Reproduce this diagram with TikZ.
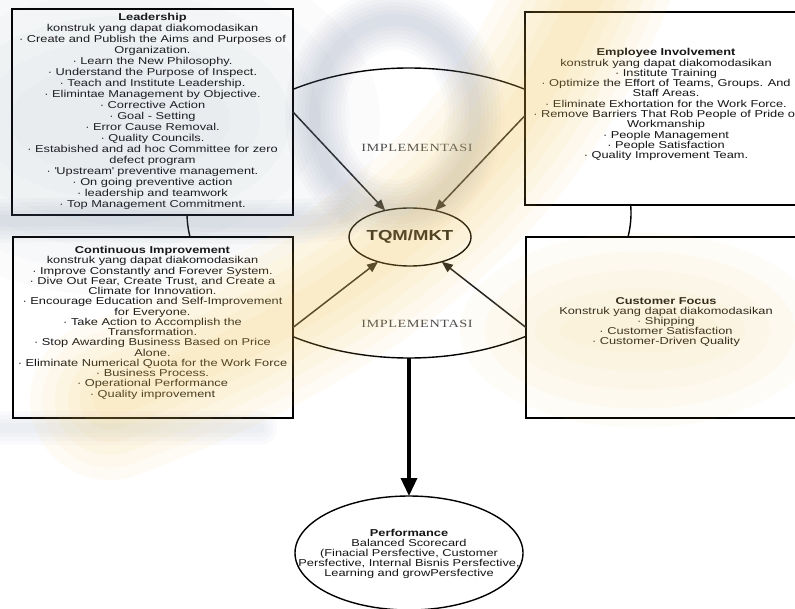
\documentclass[tikz,border=0pt]{standalone}
\usepackage{fontspec}
\setmainfont{Liberation Sans}[FakeStretch=1.28]
\newfontfamily\implfont{Liberation Serif}[FakeStretch=1.3,LetterSpace=5]
\usetikzlibrary{shapes.geometric,arrows.meta}
\definecolor{ink}{RGB}{20,20,20}
\definecolor{linegray}{RGB}{30,30,30}
\definecolor{swirl}{RGB}{110,125,160}
\definecolor{cream}{RGB}{250,200,80}
\begin{document}
\begin{tikzpicture}[x=1bp,y=-1bp,
  every node/.style={inner sep=0pt,outer sep=0pt},
  panel/.style={draw=black,line width=1.4bp,fill=white,rectangle,anchor=north west},
  blurb/.style={align=center,anchor=north,text=ink,font=\fontsize{10bp}{#1bp}\selectfont},
  hub/.style={draw=black,line width=1.4bp,fill=white,ellipse},
  feed/.style={draw=linegray,line width=1.5bp,-{Triangle[length=11bp,width=9bp]}},
  impl/.style={text=black!70,font=\implfont\fontsize{11bp}{12bp}\selectfont}
]
\clip (0,0) rectangle (795,609);
\fill[white] (0,0) rectangle (795,609);

% ring that joins the four panels
\node[draw=black,line width=1.4bp,ellipse,minimum width=444bp,minimum height=290bp] (ring) at (409,213) {};

% the four panels
\node[panel,minimum width=281bp,minimum height=206bp] (lead) at (12,9) {};
\node[panel,minimum width=282bp,minimum height=193bp] (emp) at (525,12) {};
\node[panel,minimum width=280bp,minimum height=181bp] (cont) at (13,237) {};
\node[panel,minimum width=281bp,minimum height=181bp] (cust) at (526,237) {};

\node[blurb=11] (leadtxt) at (152.5,13.5) {\textbf{Leadership}\\
konstruk yang dapat diakomodasikan\\
· Create and Publish the Aims and Purposes of\\
Organization.\\
· Learn the New Philosophy.\\
· Understand the Purpose of Inspect.\\
· Teach and Institute Leadership.\\
· Elimintae Management by Objective.\\
· Corrective Action\\
· Goal - Setting\\
· Error Cause Removal.\\
· Quality Councils.\\
· Estabished and ad hoc Committee for zero\\
defect program\\
· \textquotesingle Upstream\textquotesingle\ preventive management.\\
· On going preventive action\\
· leadership and teamwork\\
· Top Management Commitment.};

\node[blurb=10.3] (emptxt) at (666,48.5) {\textbf{Employee Involvement}\\
konstruk yang dapat diakomodasikan\\
· Institute Training\\
· Optimize the Effort of Teams, Groups. And\\
Staff Areas.\\
· Eliminate Exhortation for the Work Force.\\
· Remove Barriers That Rob People of Pride of\\
Workmanship\\
· People Management\\
· People Satisfaction\\
· Quality Improvement Team.};

\node[blurb=10.24] (conttxt) at (152.5,246.5) {\textbf{Continuous Improvement}\\
konstruk yang dapat diakomodasikan\\
· Improve Constantly and Forever System.\\
· Dive Out Fear, Create Trust, and Create a\\
Climate for Innovation.\\
· Encourage Education and Self-Improvement\\
for Everyone.\\
· Take Action to Accomplish the\\
Transformation.\\
· Stop Awarding Business Based on Price\\
Alone.\\
· Eliminate Numerical Quota for the Work Force\\
· Business Process.\\
· Operational Performance\\
· Quality improvement};

\node[blurb=10] (custtxt) at (666,297.5) {\textbf{Customer Focus}\\
Konstruk yang dapat diakomodasikan\\
· Shipping\\
· Customer Satisfaction\\
· Customer-Driven Quality};

% centre
\node[hub,minimum width=122bp,minimum height=58bp] (tqm) at (410,237) {};
\node[font=\bfseries\fontsize{14.5bp}{16bp}\selectfont,text=ink] (tqmtxt) at (tqm) {TQM/MKT};

\node[impl] (implup) at (417,148) {IMPLEMENTASI};
\node[impl] (impldown) at (417,324) {IMPLEMENTASI};

\draw[feed] (lead.east) -- (tqm);
\draw[feed] ([yshift=-7bp]emp.west) -- (tqm);
\draw[feed] (cont.east) -- (tqm);
\draw[feed] (cust.west) -- (tqm);

% result
\node[draw=black,line width=1.4bp,ellipse,minimum width=228bp,minimum height=114bp] (perf) at (409,553) {};
\node[blurb=10] (perftxt) at (409,529) {\textbf{Performance}\\
Balanced Scorecard\\
(Finacial Persfective, Customer\\
Persfective, Internal Bisnis Persfective,\\
Learning and growPersfective};
\draw[black,line width=3.5bp,-{Triangle[length=18bp,width=16bp]}] (ring.south) -- (perf.north);

% translucent backdrop sweeps laid over the slide, built from many faint layers
% grey-blue wash on the upper left
\foreach \w in {220,190,160,130,100,70} {
  \fill[swirl,opacity=0.025] (120,120) ellipse [x radius=\w bp+40bp,y radius=\w bp*0.8];
}
% grey-blue loop above the centre
\foreach \w in {60,52,44,36,28,20,12} {
  \draw[swirl,opacity=0.035,line width=\w bp] (395,115) ellipse [x radius=80bp,y radius=95bp];
}
% grey band between the left panels
\foreach \w in {44,36,28,20,12} {
  \draw[swirl,opacity=0.04,line width=\w bp,line cap=round] (-20,222) .. controls (120,215) and (250,228) .. (340,218);
}
% soft shadow under the lower left panel
\foreach \w in {34,26,18,10} {
  \draw[swirl,opacity=0.03,line width=\w bp,line cap=round] (-20,428) -- (260,428);
}
% cream sweep from the top right down to the lower left
\foreach \w in {160,135,110,85,60,35} {
  \draw[cream,opacity=0.055,line width=\w bp,line cap=round]
    (600,-40) .. controls (540,120) and (430,280) .. (110,400);
}
% cream glow around the lower right panel
\foreach \w in {130,105,80,55,30} {
  \fill[cream,opacity=0.045] (640,330) ellipse [x radius=\w bp+50bp,y radius=\w bp*0.75];
}
\end{tikzpicture}
\end{document}
